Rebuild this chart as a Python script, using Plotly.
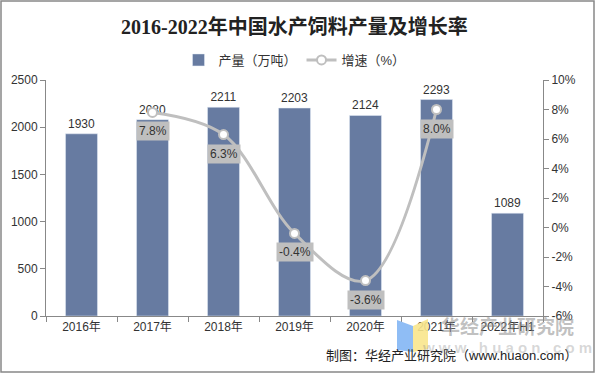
import plotly.graph_objects as go

categories = ["2016年", "2017年", "2018年", "2019年", "2020年", "2021年", "2022年H1"]
output_wt = [1930, 2080, 2211, 2203, 2124, 2293, 1089]
growth_cats = ["2017年", "2018年", "2019年", "2020年", "2021年"]
growth_pct = [7.8, 6.3, -0.4, -3.6, 8.0]
pct_ticks = [-6, -4, -2, 0, 2, 4, 6, 8, 10]
pct_tick_labels = ["-6%", "-4%", "-2%", "0%", "2%", "4%", "6%", "8%", "10%"]

W, H = 596, 374
L, R, T, B = 46, 53, 80, 58
pw, ph = W - L - R, H - T - B

def px_x(p):
    return (p - L) / pw

def px_y(p):
    return (H - B - p) / ph

SANS = "Liberation Sans, Noto Sans CJK SC, Arial"

fig = go.Figure()
fig.add_trace(go.Bar(
    x=categories, y=output_wt, name="产量（万吨）",
    marker=dict(color="#677BA1"), width=0.45,
    text=[str(v) for v in output_wt], textposition="outside",
    textfont=dict(size=12, color="#333333"), cliponaxis=False,
))
fig.add_trace(go.Scatter(
    x=growth_cats, y=growth_pct, name="增速（%）", yaxis="y2",
    mode="lines+markers",
    line=dict(color="#BFBFBF", width=3, shape="spline", smoothing=1.0),
    marker=dict(symbol="circle", size=9, color="white", line=dict(color="#BFBFBF", width=2)),
    cliponaxis=False,
))

for c, v in zip(growth_cats, growth_pct):
    fig.add_annotation(x=c, y=v, xref="x", yref="y2", text=f"{v:.1f}%",
                       showarrow=False, yshift=-19, bgcolor="#BFBFBF",
                       font=dict(size=12, color="#333333"), borderpad=2)

fig.add_annotation(x=0.5, y=px_y(27), xref="paper", yref="paper", text="<b>2016-2022年中国水产饲料产量及增长率</b>",
                   showarrow=False, xanchor="center", yanchor="middle",
                   font=dict(size=20, color="#222222", family="Liberation Serif, Noto Sans CJK SC"))

# watermark logo + text
fig.add_shape(type="path", xref="paper", yref="paper",
              path=f"M {px_x(397)},{px_y(320)} L {px_x(413)},{px_y(326)} L {px_x(413)},{px_y(352)} L {px_x(397)},{px_y(350)} Z",
              fillcolor="#8FBDF5", line=dict(width=0), layer="above")
fig.add_shape(type="path", xref="paper", yref="paper",
              path=f"M {px_x(413)},{px_y(326)} L {px_x(428)},{px_y(319)} L {px_x(428)},{px_y(349)} L {px_x(413)},{px_y(352)} Z",
              fillcolor="#F8E58C", line=dict(width=0), layer="above", opacity=0.9)
fig.add_annotation(x=px_x(507), y=px_y(327), xref="paper", yref="paper", text="<b>华经产业研究院</b>",
                   showarrow=False, xanchor="center", yanchor="middle",
                   font=dict(size=19, color="rgba(140,140,140,0.55)"))
fig.add_annotation(x=px_x(579), y=px_y(355), xref="paper", yref="paper", text="制图：华经产业研究院（www.huaon.com）",
                   showarrow=False, xanchor="right", yanchor="middle", font=dict(size=13, color="#222222"))
fig.add_annotation(x=px_x(507), y=px_y(347), xref="paper", yref="paper", text="<b>w w w . h u a o n . c o m</b>",
                   showarrow=False, xanchor="center", yanchor="middle",
                   font=dict(size=15, color="rgba(140,140,140,0.35)"))

# outer frame
fig.add_shape(type="rect", xref="paper", yref="paper", x0=px_x(1), x1=px_x(594), y0=px_y(372), y1=px_y(1),
              line=dict(color="#888888", width=1.5), fillcolor="rgba(0,0,0,0)", layer="below")

fig.update_layout(
    width=W, height=H, margin=dict(l=L, r=R, t=T, b=B, autoexpand=False),
    paper_bgcolor="white", plot_bgcolor="white",
    font=dict(family=SANS, size=12, color="#404040"),
    showlegend=True,
    legend=dict(orientation="h", x=0.5, xanchor="center", y=px_y(60), yanchor="middle",
                font=dict(size=13, color="#333333"), traceorder="normal"),
    xaxis=dict(type="category", showline=True, linecolor="#888888", linewidth=1,
               ticks="outside", tickson="boundaries", ticklen=5, tickcolor="#888888",
               showgrid=False, tickfont=dict(size=12, color="#333333"), automargin=False),
    yaxis=dict(range=[0, 2500], dtick=500, showline=True, linecolor="#888888",
               ticks="outside", ticklen=5, tickcolor="#888888", showgrid=False,
               zeroline=False, tickfont=dict(size=12, color="#333333"), automargin=False),
    yaxis2=dict(range=[-6, 10], tickvals=pct_ticks, ticktext=pct_tick_labels,
                overlaying="y", side="right", showline=True,
                linecolor="#888888", ticks="outside", ticklen=5, tickcolor="#888888",
                showgrid=False, zeroline=False, automargin=False,
                tickfont=dict(size=12, color="#333333")),
)

fig.write_html("out.html", config={"displayModeBar": False},
               post_script="document.body.style.margin='0px';document.body.style.overflow='hidden';")
